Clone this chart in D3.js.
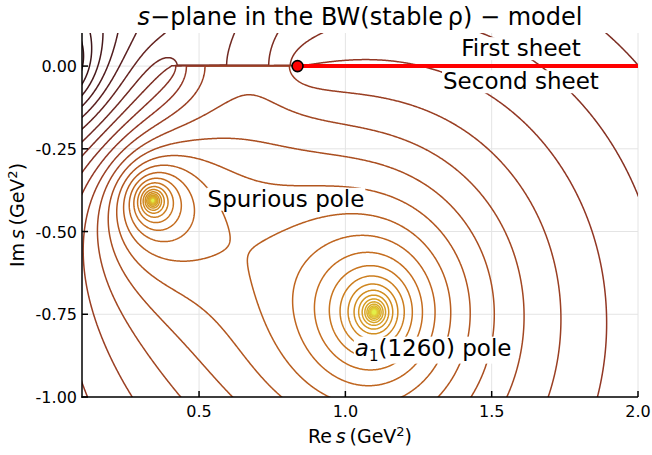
<!DOCTYPE html>
<html>
<head>
<meta charset="utf-8">
<script src="https://cdn.jsdelivr.net/npm/d3@7"></script>
<style>
  body { margin: 0; background: #fff; }
  svg { font-family: "DejaVu Sans", sans-serif; }
</style>
</head>
<body>
<svg id="chart" width="652" height="455"></svg>
<script>
// ---- axes ----
const xDomain = [0.1, 2.0];
const yDomain = [-1.0, 0.1];
const xTicks = [0.5, 1.0, 1.5, 2.0];
const xTickLabels = ["0.5", "1.0", "1.5", "2.0"];
const yTicks = [0.0, -0.25, -0.5, -0.75, -1.0];
const yTickLabels = ["0.00", "-0.25", "-0.50", "-0.75", "-1.00"];

// ---- Breit–Wigner model for a1 -> rho pi with a stable rho (GeV units) ----
const mRho = 0.775;
const mPi = 0.1396;
const massSq = 1.44;     // bare a1 mass squared
const coupling = 1.212;  // width coupling

// ---- contour levels of ln|T| ----
const levelStep = 0.25;
const levelMax = 6.5;

// line colour ramp (value of ln|T| -> colour)
const rampLevels = [-1.75, -0.75, 0.5, 1.5, 2.25, 3.0, 4.0, 5.0, 6.0];
const rampColors = ["#351318", "#5a1f20", "#923724", "#b2561f", "#c56d1f", "#cf861f", "#d8a527", "#dfc633", "#e3ef4a"];

const svg = d3.select("#chart");
const x = d3.scaleLinear().domain(xDomain).range([82, 638]);
const y = d3.scaleLinear().domain(yDomain).range([397, 33]);

// complex helpers
const cx = (re, im) => ({ re, im });
const cmul = (a, b) => cx(a.re * b.re - a.im * b.im, a.re * b.im + a.im * b.re);
const cdiv = (a, b) => { const d = b.re * b.re + b.im * b.im; return cx((a.re * b.re + a.im * b.im) / d, (a.im * b.re - a.re * b.im) / d); };
const csqrt = z => {
  const r = Math.hypot(z.re, z.im);
  const a = Math.sqrt(Math.max(0, (r + z.re) / 2));
  let b = Math.sqrt(Math.max(0, (r - z.re) / 2));
  if (z.im < 0) b = -b;
  return cx(a, b);
};

const sThr = (mRho + mPi) ** 2;
const sPseudo = (mRho - mPi) ** 2;

// T(s) = 1 / (M^2 - s - i g sqrt(s - s+) sqrt(s - s-) / s); returns ln|T|
function logAbsT(re, im) {
  const s = cx(re, im);
  const q = cmul(csqrt(cx(re - sThr, im)), csqrt(cx(re - sPseudo, im)));
  const f = cdiv(q, s);
  const dRe = massSq - re + coupling * f.im;
  const dIm = -im - coupling * f.re;
  return -Math.log(Math.hypot(dRe, dIm));
}

// sample grid (slightly wider than the plot, clipped afterwards)
const gx0 = 0.08, gx1 = 2.02, gy0 = -1.02, gy1 = 0.12;
const nx = 660, ny = 400;
const dx = (gx1 - gx0) / (nx - 1), dy = (gy1 - gy0) / (ny - 1);
const values = new Float64Array(nx * ny);
for (let j = 0; j < ny; j++) {
  const im = gy1 - j * dy;
  for (let i = 0; i < nx; i++) values[j * nx + i] = logAbsT(gx0 + i * dx, im);
}
const [vMin, vMax] = d3.extent(values);
const levels = d3.range(Math.ceil(vMin / levelStep), Math.floor(Math.min(vMax, levelMax) / levelStep) + 1)
  .map(k => k * levelStep);

const colorScale = d3.scaleLinear().domain(rampLevels).range(rampColors)
  .interpolate(d3.interpolateRgb).clamp(true);

// ---- grid lines ----
const grid = svg.append("g").attr("stroke", "#e4e4e4").attr("stroke-width", 1);
grid.selectAll("line.gx").data(xTicks).join("line")
  .attr("x1", d => x(d)).attr("x2", d => x(d)).attr("y1", y(yDomain[0])).attr("y2", y(yDomain[1]));
grid.selectAll("line.gy").data(yTicks).join("line")
  .attr("y1", d => y(d)).attr("y2", d => y(d)).attr("x1", x(xDomain[0])).attr("x2", x(xDomain[1]));

// ---- contours ----
svg.append("clipPath").attr("id", "plotClip").append("rect")
  .attr("x", x(xDomain[0])).attr("y", y(yDomain[1]))
  .attr("width", x(xDomain[1]) - x(xDomain[0])).attr("height", y(yDomain[0]) - y(yDomain[1]));

const contours = d3.contours().size([nx, ny]).thresholds(levels)(values);
const proj = d3.geoTransform({
  point(c0, c1) { this.stream.point(x(gx0 + (c0 - 0.5) * dx), y(gy1 - (c1 - 0.5) * dy)); }
});
const path = d3.geoPath(proj);
svg.append("g").attr("clip-path", "url(#plotClip)")
  .attr("fill", "none").attr("stroke-width", 1.5).attr("stroke-linejoin", "round")
  .selectAll("path").data(contours).join("path")
  .attr("d", path)
  .attr("stroke", d => colorScale(d.value));

// ---- unitarity cut on the first sheet and the rho-pi threshold ----
svg.append("line")
  .attr("x1", x(sThr)).attr("x2", x(xDomain[1])).attr("y1", y(0)).attr("y2", y(0))
  .attr("stroke", "#ff0000").attr("stroke-width", 4);
svg.append("circle")
  .attr("cx", x(sThr)).attr("cy", y(0)).attr("r", 5.5)
  .attr("fill", "#ff0000").attr("stroke", "#000").attr("stroke-width", 1.6);

// ---- axes ----
const axes = svg.append("g").attr("stroke", "#000").attr("stroke-width", 1.5);
axes.append("line").attr("x1", x(xDomain[0])).attr("x2", x(xDomain[0])).attr("y1", y(yDomain[0]) + 0.75).attr("y2", y(yDomain[1]));
axes.append("line").attr("x1", x(xDomain[0]) - 0.75).attr("x2", x(xDomain[1])).attr("y1", y(yDomain[0])).attr("y2", y(yDomain[0]));
axes.selectAll("line.tx").data(xTicks).join("line")
  .attr("x1", d => x(d)).attr("x2", d => x(d)).attr("y1", y(yDomain[0])).attr("y2", y(yDomain[0]) - 6);
axes.selectAll("line.ty").data(yTicks).join("line")
  .attr("y1", d => y(d)).attr("y2", d => y(d)).attr("x1", x(xDomain[0])).attr("x2", x(xDomain[0]) + 6);

svg.append("g").attr("font-size", 16).attr("text-anchor", "middle").attr("fill", "#000")
  .selectAll("text").data(xTicks).join("text")
  .attr("x", d => x(d)).attr("y", y(yDomain[0]) + 20)
  .text((d, i) => xTickLabels[i]);
svg.append("g").attr("font-size", 16).attr("text-anchor", "end").attr("fill", "#000")
  .selectAll("text").data(yTicks).join("text")
  .attr("x", x(xDomain[0]) - 5).attr("y", d => y(d) + 6)
  .text((d, i) => yTickLabels[i]);

// ---- titles ----
const title = svg.append("text").attr("x", (x(xDomain[0]) + x(xDomain[1])) / 2).attr("y", 25)
  .attr("text-anchor", "middle").attr("font-size", 24);
title.append("tspan").attr("font-style", "italic").text("s");
title.append("tspan").text("\u2212plane in the BW(stable\u2009\u03c1) \u2212 model");

const xl = svg.append("text").attr("x", (x(xDomain[0]) + x(xDomain[1])) / 2).attr("y", 443)
  .attr("text-anchor", "middle").attr("font-size", 19);
xl.append("tspan").text("Re\u2009");
xl.append("tspan").attr("font-style", "italic").text("s");
xl.append("tspan").text("\u2009(GeV");
xl.append("tspan").attr("font-size", 13).attr("dy", -7).text("2");
xl.append("tspan").attr("dy", 7).text(")");

const yl = svg.append("text").attr("transform", `translate(24,${(y(yDomain[0]) + y(yDomain[1])) / 2}) rotate(-90)`)
  .attr("text-anchor", "middle").attr("font-size", 19);
yl.append("tspan").text("Im\u2009");
yl.append("tspan").attr("font-style", "italic").text("s");
yl.append("tspan").text("\u2009(GeV");
yl.append("tspan").attr("font-size", 13).attr("dy", -7).text("2");
yl.append("tspan").attr("dy", 7).text(")");

// ---- annotations with white backing ----
function note(re, im, build) {
  const g = svg.append("g");
  const bg = g.append("rect").attr("fill", "#fff");
  const t = g.append("text").attr("x", x(re)).attr("y", y(im)).attr("text-anchor", "middle")
    .attr("font-size", 23).attr("fill", "#000");
  build(t);
  const b = t.node().getBBox();
  bg.attr("x", b.x - 1).attr("y", b.y + 2).attr("width", b.width + 2).attr("height", b.height - 3);
}
note(0.797, -0.425, t => t.text("Spurious pole"));
note(1.6, 0.03, t => t.text("First sheet"));
note(1.6, -0.07, t => t.text("Second sheet"));
note(1.30, -0.875, t => {
  t.append("tspan").attr("font-style", "italic").text("a");
  t.append("tspan").attr("font-size", 15).attr("dy", 5).text("1");
  t.append("tspan").attr("dy", -5).text("(1260) pole");
});
</script>
</body>
</html>
